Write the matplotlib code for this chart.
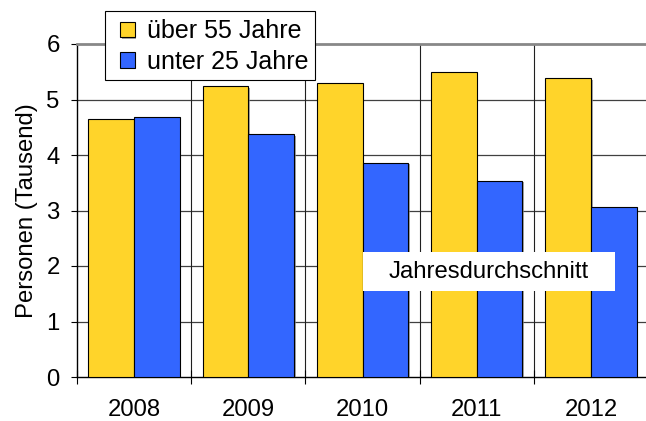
import matplotlib.pyplot as plt
import matplotlib.patheffects as pe
from matplotlib.patches import Rectangle
import numpy as np

plt.rcParams["font.family"] = ["Liberation Sans", "DejaVu Sans"]

# Jahresdurchschnitt, Personen in Tausend
years = ["2008", "2009", "2010", "2011", "2012"]
ueber_55 = [4.64, 5.24, 5.30, 5.50, 5.38]
unter_25 = [4.69, 4.38, 3.86, 3.54, 3.07]

yellow = "#FFD42A"
blue = "#3366FF"
fs = 17.2

fig = plt.figure(figsize=(6.46, 4.21), dpi=100)
W, H = 646, 421
ax = fig.add_axes([77 / W, 1 - 377 / H, (648 - 77) / W, (377 - 44) / H])

x = np.arange(len(years))
w = 0.4
shadow = [pe.SimplePatchShadow(offset=(1.2, -1.2), shadow_rgbFace="gray", alpha=0.7), pe.Normal()]
b1 = ax.bar(x - w / 2, ueber_55, w, color=yellow, edgecolor="black", linewidth=0.8,
            label="über 55 Jahre", zorder=3)
b2 = ax.bar(x + w / 2, unter_25, w, color=blue, edgecolor="black", linewidth=0.8,
            label="unter 25 Jahre", zorder=3)
for bar in list(b1) + list(b2):
    bar.set_path_effects(shadow)

ax.set_xlim(-0.5, len(years) - 0.5)
ax.set_ylim(0, 6)

# horizontal grid
for v in range(1, 6):
    ax.axhline(v, color="#404040", linewidth=0.9, zorder=1)
# vertical grid at category boundaries
for b in np.arange(0.5, len(years) - 0.5, 1):
    ax.axvline(b, color="#202020", linewidth=0.8, zorder=1)

ax.spines["right"].set_visible(False)
ax.spines["top"].set_color("#888888")
ax.spines["top"].set_linewidth(2)
ax.spines["left"].set_linewidth(1.0)
ax.spines["bottom"].set_linewidth(1.0)

ax.set_yticks(range(0, 7))
ax.tick_params(axis="y", direction="out", length=4.5, width=0.8, pad=8, labelsize=fs)

ax.set_xticks(np.arange(-0.5, len(years), 1))
ax.set_xticklabels([])
ax.tick_params(axis="x", which="major", direction="inout", length=10, width=0.8)
ax.set_xticks(x, minor=True)
ax.set_xticklabels(years, minor=True)
ax.tick_params(axis="x", which="minor", length=0, pad=15.5, labelsize=fs)

ax.set_ylabel("Personen (Tausend)", fontsize=fs, labelpad=6)

# label box "Jahresdurchschnitt"
ax.add_patch(Rectangle((2.002, 1.555), 2.209, 0.692, facecolor="white",
                       edgecolor="none", zorder=5))
ax.text(3.106, 1.90, "Jahresdurchschnitt", fontsize=fs, ha="center", va="center",
        zorder=6)

# legend frame drawn separately (wider side padding than top/bottom)
fig.patches.append(Rectangle((105 / W, 1 - 80 / H), 210 / W, 69.3 / H,
                             transform=fig.transFigure, facecolor="white",
                             edgecolor="black", linewidth=0.8, zorder=4))
leg = fig.legend(handles=[b1, b2], loc="upper left",
                 bbox_to_anchor=(120 / W, 1 - 19.5 / H),
                 fontsize=18, frameon=False, handlelength=0.58, handleheight=0.58,
                 handletextpad=0.5, labelspacing=0.25, borderpad=0, borderaxespad=0)
leg.set_zorder(6)

fig.savefig("out.png", dpi=100)
